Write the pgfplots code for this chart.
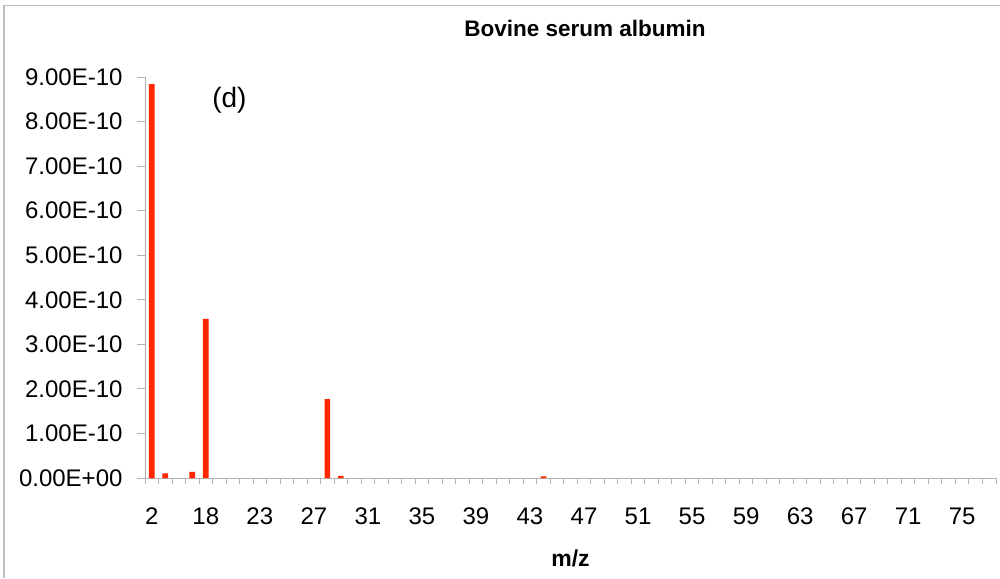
\documentclass[border=0pt]{standalone}
\usepackage{pgfplots}
\pgfplotsset{compat=1.18}
\usepackage{fontspec}
\setmainfont{Liberation Sans}
\definecolor{barred}{RGB}{255,38,0}
\definecolor{axgray}{RGB}{178,178,178}
\definecolor{framegray}{RGB}{190,190,190}
\begin{document}
\begin{tikzpicture}[x=1pt,y=1pt]
\useasboundingbox (0,0) rectangle (1000,578);
\draw[framegray, line width=1.5pt] (4,0) -- (4,572.5) -- (1000,572.5);
\node[font=\bfseries\fontsize{22.5}{26}\selectfont, anchor=base] at (585,541) {Bovine serum albumin};
\begin{axis}[
  at={(145pt,100pt)}, anchor=south west,
  scale only axis, width=851pt, height=401pt,
  xmin=-0.5, xmax=62.5, ymin=0, ymax=9e-10,
  scaled y ticks=false,
  axis lines=left,
  axis line style={-, draw=axgray, line width=1pt},
  tick align=outside,
  xtick={0,4,...,60},
  xticklabels={2,18,23,27,31,35,39,43,47,51,55,59,63,67,71,75},
  minor xtick={-0.5,0.5,...,62.5},
  ytick={0,1e-10,2e-10,3e-10,4e-10,5e-10,6e-10,7e-10,8e-10,9e-10},
  yticklabels={0.00E+00,1.00E-10,2.00E-10,3.00E-10,4.00E-10,5.00E-10,6.00E-10,7.00E-10,8.00E-10,9.00E-10},
  major tick length=8pt,
  minor tick length=6pt,
  tick style={axgray, line width=1pt},
  major x tick style={draw=none},
  ticklabel style={font=\fontsize{24}{28}\selectfont},
  yticklabel style={xshift=-11pt},
  xticklabel style={yshift=-18pt},
  xlabel={m/z},
  xlabel style={font=\bfseries\fontsize{23}{27}\selectfont, at={(axis description cs:0.5,0)}, anchor=base, yshift=-88pt},
  clip=false,
]
\addplot[ybar, bar width=5.6pt, fill=barred, draw=none] coordinates {
 (0,8.84e-10) (1,1.05e-11) (3,1.35e-11) (4,3.57e-10) (13,1.77e-10) (14,4.5e-12) (29,3.8e-12)
};
\node[font=\fontsize{28}{32}\selectfont] at (axis cs:5.75,8.48e-10) {(d)};
\end{axis}
\end{tikzpicture}
\end{document}
